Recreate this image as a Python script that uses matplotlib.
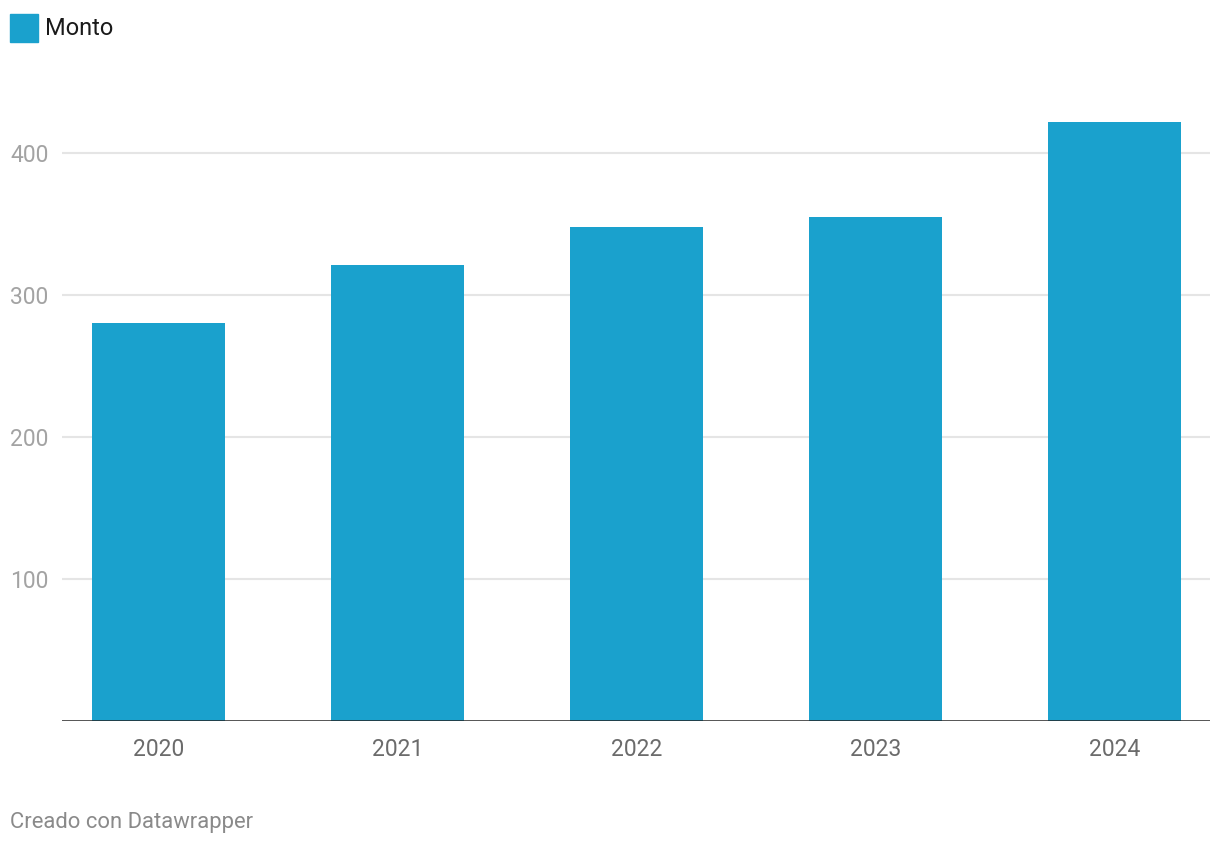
import matplotlib
matplotlib.use("Agg")
import matplotlib.pyplot as plt
import matplotlib.transforms as mtransforms

categories = ["2020", "2021", "2022", "2023", "2024"]
values = [280, 321, 348, 355, 422]
y_ticks = [100, 200, 300, 400]
series_name = "Monto"
footer = "Creado con Datawrapper"

BAR = "#1aa1cd"
plt.rcParams["font.family"] = ["Roboto", "DejaVu Sans"]

W, H = 1220, 846
fig = plt.figure(figsize=(W / 100, H / 100), dpi=100)

left_px, right_px, bottom_px = 62, 1210, 721
ymax = 440
px_per_unit = 1.42
top_px = bottom_px - ymax * px_per_unit
ax = fig.add_axes([left_px / W, (H - bottom_px) / H,
                   (right_px - left_px) / W, (bottom_px - top_px) / H])

x = list(range(len(categories)))
ax.bar(x, values, width=0.557, color=BAR, zorder=2)
ax.set_xlim(-0.404, len(categories) - 1 + 0.40)
ax.set_ylim(0, ymax)

for t in y_ticks:
    ax.axhline(t, color="#e5e5e5", lw=1.5, zorder=1)
ax.axhline(0, color="#222222", lw=1.8, zorder=3)

for s in ax.spines.values():
    s.set_visible(False)
ax.set_yticks([])
ax.set_xticks(x)
ax.set_xticklabels(categories, fontsize=16.5, color="#6b6b6b")
ax.tick_params(axis="x", length=0, pad=12)

trans = mtransforms.blended_transform_factory(fig.transFigure, ax.transData)
for t in y_ticks:
    ax.text(10 / W, t, str(t), transform=trans, ha="left", va="center_baseline",
            fontsize=16.5, color="#a3a3a3")

# legend
fig.patches.append(plt.Rectangle((10 / W, (H - 42) / H), 28 / W, 28 / H,
                                 transform=fig.transFigure, color=BAR))
fig.text(45 / W, (H - 26) / H, series_name, ha="left", va="center_baseline",
         fontsize=17, color="#1a1a1a")

fig.text(10 / W, (H - 820) / H, footer, ha="left", va="center_baseline",
         fontsize=15.8, color="#8a8a8a")

fig.savefig("out.png", dpi=100)
